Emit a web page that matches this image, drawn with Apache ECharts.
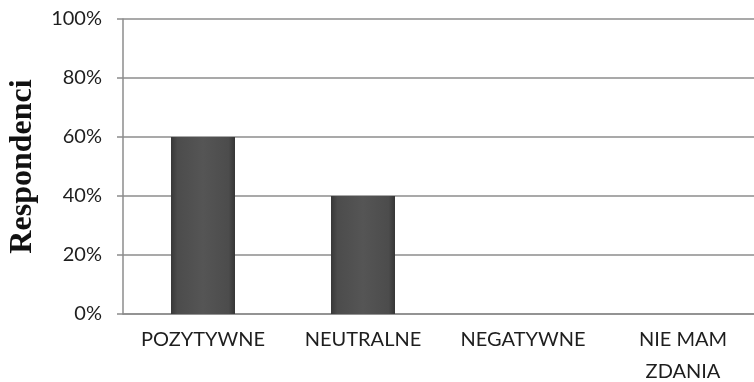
<!DOCTYPE html>
<html>
<head>
<meta charset="utf-8">
<script src="https://cdn.jsdelivr.net/npm/echarts@6/dist/echarts.min.js"></script>
<style>
  html, body { margin: 0; padding: 0; background: #fff; }
  #chart { width: 754px; height: 382px; }
</style>
</head>
<body>
<div id="chart"></div>
<script>
// Opinion categories and share of respondents (percent)
const categories = ['POZYTYWNE', 'NEUTRALNE', 'NEGATYWNE', 'NIE MAM\nZDANIA'];
const shares = [60, 40, 0, 0];
const yTicks = [0, 20, 40, 60, 80, 100];

const chart = echarts.init(document.getElementById('chart'));

chart.setOption({
  animation: false,
  grid: { left: 123, top: 19, width: 640, height: 295, outerBoundsMode: 'none', containLabel: false },
  xAxis: {
    type: 'category',
    data: categories,
    axisLine: { lineStyle: { color: '#8c8c8c', width: 1.5 } },
    axisTick: { length: 8, lineStyle: { color: '#8c8c8c', width: 1.5 } },
    axisLabel: {
      color: '#1e1e1e',
      fontFamily: 'Lato',
      fontSize: 20,
      lineHeight: 32,
      margin: 10,
      interval: 0
    }
  },
  yAxis: {
    type: 'value',
    min: yTicks[0],
    max: yTicks[yTicks.length - 1],
    interval: 20,
    name: 'Respondenci',
    nameLocation: 'middle',
    nameGap: 84,
    nameTextStyle: {
      fontFamily: 'Liberation Serif',
      fontWeight: 'bold',
      fontSize: 32,
      color: '#111'
    },
    axisLine: { show: true, lineStyle: { color: '#8c8c8c', width: 1.5 } },
    axisTick: { show: true, length: 6, lineStyle: { color: '#8c8c8c', width: 1.5 } },
    axisLabel: {
      color: '#1e1e1e',
      fontFamily: 'Lato',
      fontSize: 20,
      margin: 21,
      formatter: v => v + '%'
    },
    splitLine: { lineStyle: { color: '#8c8c8c', width: 1.5 } }
  },
  series: [{
    type: 'bar',
    data: shares,
    barWidth: '40%',
    itemStyle: {
      color: new echarts.graphic.LinearGradient(0, 0, 1, 0, [
        { offset: 0, color: '#383838' },
        { offset: 0.1, color: '#4c4c4c' },
        { offset: 0.5, color: '#555555' },
        { offset: 0.9, color: '#4c4c4c' },
        { offset: 1, color: '#363636' }
      ])
    }
  }]
});
</script>
</body>
</html>
